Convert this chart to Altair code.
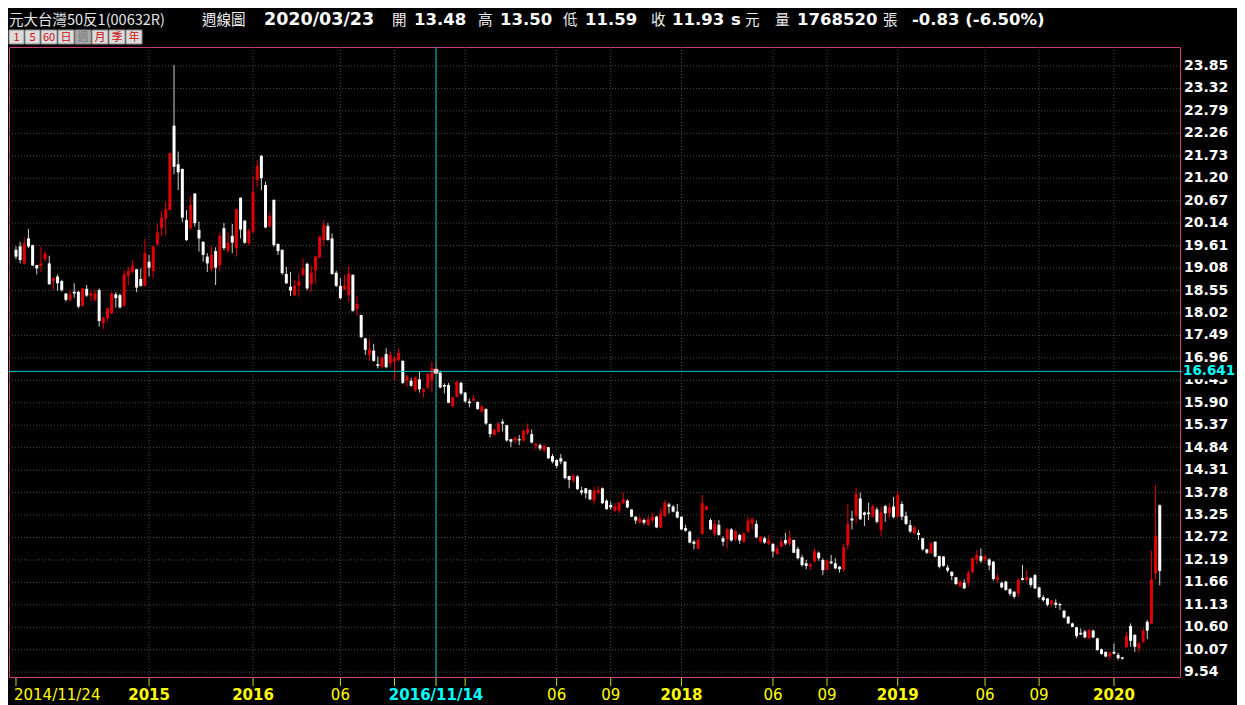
import altair as alt
import pandas as pd

# ---------------- data (weekly candles, 2014/11/24 .. 2020/03/23) ----------------
opens = [19.51, 19.59, 19.19, 19.78, 19.62, 19.15, 19.13, 19.29, 19.19, 18.77,
         18.88, 18.77, 18.48, 18.33, 18.52, 18.52, 18.19, 18.59, 18.43, 18.33,
         18.56, 17.78, 17.89, 18.01, 18.46, 18.44, 18.19, 18.90, 18.99, 19.05,
         18.82, 18.66, 19.23, 19.01, 19.64, 20.02, 20.25, 20.45, 22.44, 21.53,
         21.42, 20.21, 20.02, 20.84, 19.98, 19.70, 19.35, 19.06, 19.48, 19.15,
         20.02, 19.49, 19.84, 19.55, 20.74, 20.20, 19.66, 19.94, 21.16, 21.73,
         21.04, 20.06, 20.69, 19.65, 19.51, 18.94, 18.64, 18.44, 18.66, 18.92,
         19.18, 18.70, 19.02, 19.33, 19.74, 20.07, 19.78, 18.97, 18.66, 18.58,
         18.44, 18.92, 18.11, 17.97, 17.42, 17.03, 17.13, 16.81, 16.75, 17.05,
         16.83, 16.87, 16.91, 16.89, 16.42, 16.42, 16.19, 16.45, 16.16, 16.26,
         16.42, 16.62, 16.61, 16.32, 16.32, 15.82, 16.04, 16.37, 16.14, 15.93,
         15.95, 15.92, 15.69, 15.75, 15.40, 15.14, 15.22, 15.45, 15.37, 15.04,
         15.01, 15.04, 15.01, 15.19, 15.16, 14.88, 14.90, 14.78, 14.85, 14.64,
         14.55, 14.59, 14.51, 14.17, 14.06, 14.16, 13.83, 13.88, 13.84, 13.59,
         13.77, 13.88, 13.59, 13.49, 13.35, 13.35, 13.53, 13.59, 13.38, 13.21,
         13.07, 13.13, 13.02, 13.12, 13.21, 12.96, 13.23, 13.50, 13.45, 13.33,
         13.21, 12.94, 12.86, 12.62, 12.46, 12.80, 13.37, 13.13, 12.80, 13.02,
         12.70, 12.68, 12.91, 12.68, 12.78, 12.62, 12.86, 13.05, 13.04, 12.62,
         12.70, 12.57, 12.57, 12.33, 12.50, 12.66, 12.57, 12.66, 12.45, 12.25,
         12.11, 12.03, 12.15, 12.36, 12.19, 11.95, 12.15, 12.11, 12.03, 11.97,
         12.54, 13.17, 13.23, 13.64, 13.31, 13.31, 13.21, 13.38, 12.90, 13.46,
         13.29, 13.45, 13.21, 13.51, 13.23, 13.01, 12.82, 12.83, 12.70, 12.44,
         12.35, 12.62, 12.28, 12.27, 12.01, 11.91, 11.78, 11.57, 11.65, 11.65,
         11.91, 12.20, 12.28, 12.20, 12.20, 12.15, 11.72, 11.65, 11.68, 11.50,
         11.44, 11.40, 11.76, 11.72, 11.76, 11.83, 11.54, 11.31, 11.28, 11.15,
         11.18, 11.15, 10.99, 10.85, 10.69, 10.60, 10.47, 10.50, 10.34, 10.52,
         10.34, 10.08, 10.02, 9.91, 10.02, 9.95, 9.89, 10.13, 10.63, 10.42,
         10.10, 10.26, 10.73, 10.69, 11.87, 13.48]
highs = [19.59, 19.69, 19.80, 20.00, 19.63, 19.15, 19.58, 19.48, 19.37, 18.85,
         18.93, 18.80, 18.48, 18.56, 18.72, 18.54, 18.60, 18.68, 18.56, 18.56,
         18.60, 17.93, 18.13, 18.51, 18.51, 18.48, 19.03, 19.11, 19.27, 19.06,
         19.07, 19.77, 19.39, 19.62, 20.11, 20.43, 20.65, 21.81, 23.87, 21.83,
         21.43, 20.45, 20.79, 20.85, 20.18, 19.71, 19.43, 19.61, 19.57, 19.92,
         20.14, 19.92, 20.12, 20.47, 20.75, 20.21, 20.02, 21.24, 21.62, 21.75,
         21.12, 20.41, 20.70, 19.66, 19.52, 19.11, 18.99, 18.80, 18.94, 19.31,
         19.21, 19.15, 19.37, 19.84, 20.21, 20.14, 19.90, 19.02, 18.84, 18.92,
         19.13, 18.93, 18.42, 17.98, 17.43, 17.40, 17.29, 16.99, 16.99, 17.19,
         17.11, 16.99, 17.18, 16.90, 16.57, 16.49, 16.52, 16.63, 16.24, 16.61,
         16.87, 16.88, 16.66, 16.36, 16.37, 16.04, 16.40, 16.40, 16.16, 16.00,
         16.08, 15.93, 15.85, 15.77, 15.41, 15.30, 15.43, 15.51, 15.38, 15.05,
         15.10, 15.14, 15.26, 15.41, 15.27, 14.94, 14.94, 14.93, 14.86, 14.69,
         14.56, 14.69, 14.52, 14.18, 14.22, 14.19, 13.92, 13.89, 13.86, 13.92,
         13.94, 13.90, 13.62, 13.57, 13.53, 13.57, 13.78, 13.62, 13.39, 13.22,
         13.21, 13.17, 13.23, 13.31, 13.23, 13.41, 13.60, 13.54, 13.49, 13.51,
         13.22, 13.02, 12.88, 12.66, 12.70, 13.72, 13.47, 13.17, 13.13, 13.13,
         12.75, 12.94, 12.94, 12.90, 12.80, 12.83, 13.21, 13.20, 13.12, 12.75,
         12.74, 12.78, 12.58, 12.52, 12.70, 12.83, 12.88, 12.67, 12.50, 12.31,
         12.19, 12.11, 12.46, 12.39, 12.23, 12.20, 12.31, 12.23, 12.04, 12.57,
         13.51, 13.35, 13.90, 13.78, 13.33, 13.54, 13.49, 13.43, 13.45, 13.49,
         13.53, 13.68, 13.82, 13.57, 13.33, 13.13, 12.99, 12.90, 12.71, 12.45,
         12.62, 12.63, 12.29, 12.28, 12.07, 11.92, 11.79, 11.71, 11.73, 11.94,
         12.25, 12.42, 12.46, 12.31, 12.23, 12.16, 11.86, 11.68, 11.70, 11.52,
         11.45, 11.76, 12.07, 11.94, 11.78, 11.86, 11.56, 11.36, 11.29, 11.24,
         11.26, 11.18, 11.01, 10.87, 10.71, 10.61, 10.57, 10.54, 10.55, 10.55,
         10.35, 10.10, 10.03, 10.02, 10.22, 10.00, 9.90, 10.50, 10.69, 10.44,
         10.26, 10.58, 10.77, 12.41, 13.96, 13.50]
lows = [19.29, 19.19, 19.17, 19.55, 19.13, 18.93, 18.99, 19.23, 18.68, 18.56,
        18.54, 18.52, 18.29, 18.29, 18.38, 18.13, 18.17, 18.40, 18.30, 18.30,
        17.70, 17.64, 17.83, 17.99, 18.15, 18.13, 18.17, 18.68, 18.96, 18.51,
        18.64, 18.64, 18.88, 18.85, 19.61, 19.84, 19.86, 20.45, 21.29, 20.92,
        20.16, 19.72, 19.98, 20.06, 19.47, 19.23, 18.99, 19.01, 18.68, 19.02,
        19.50, 19.44, 19.43, 19.35, 19.78, 19.65, 19.62, 19.90, 20.99, 20.92,
        20.02, 20.04, 19.58, 19.39, 18.92, 18.70, 18.42, 18.42, 18.40, 18.89,
        18.56, 18.52, 18.72, 19.31, 19.60, 19.73, 18.92, 18.63, 18.34, 18.56,
        18.29, 18.05, 17.96, 17.42, 17.03, 16.89, 16.87, 16.71, 16.71, 16.71,
        16.75, 16.42, 16.87, 16.34, 16.27, 16.28, 16.16, 16.14, 16.03, 16.22,
        16.14, 16.58, 16.24, 16.12, 15.89, 15.79, 16.03, 16.08, 15.90, 15.79,
        15.93, 15.73, 15.67, 15.38, 15.08, 15.12, 15.19, 15.22, 14.98, 14.85,
        14.94, 14.90, 14.98, 15.14, 14.94, 14.80, 14.77, 14.72, 14.57, 14.47,
        14.35, 14.45, 14.09, 13.88, 14.01, 13.84, 13.72, 13.64, 13.60, 13.50,
        13.73, 13.51, 13.37, 13.38, 13.33, 13.29, 13.51, 13.41, 13.20, 13.04,
        13.04, 13.02, 12.99, 13.07, 12.94, 12.94, 13.20, 13.29, 13.31, 13.17,
        12.90, 12.86, 12.58, 12.44, 12.44, 12.78, 13.36, 12.90, 12.76, 12.76,
        12.52, 12.46, 12.62, 12.64, 12.57, 12.60, 12.82, 12.91, 12.70, 12.60,
        12.57, 12.54, 12.25, 12.31, 12.49, 12.54, 12.52, 12.35, 12.20, 12.03,
        11.97, 11.95, 12.13, 12.17, 11.83, 11.94, 12.09, 11.97, 11.89, 11.91,
        12.44, 12.91, 13.05, 13.13, 12.99, 13.13, 13.19, 13.05, 12.74, 13.09,
        13.17, 13.17, 13.19, 13.13, 13.01, 12.83, 12.80, 12.66, 12.41, 12.33,
        12.33, 12.25, 11.99, 12.03, 11.89, 11.71, 11.60, 11.54, 11.50, 11.57,
        11.87, 12.09, 12.12, 12.12, 11.95, 11.70, 11.65, 11.52, 11.46, 11.34,
        11.28, 11.32, 11.70, 11.68, 11.54, 11.50, 11.28, 11.20, 11.09, 11.09,
        11.05, 11.01, 10.81, 10.68, 10.60, 10.34, 10.41, 10.34, 10.32, 10.34,
        10.05, 9.95, 9.89, 9.83, 9.95, 9.83, 9.83, 10.13, 10.14, 10.02,
        10.02, 10.22, 10.32, 10.68, 11.73, 11.59]
closes = [19.35, 19.27, 19.66, 19.59, 19.14, 19.07, 19.19, 19.43, 18.70, 18.85,
          18.72, 18.56, 18.33, 18.46, 18.48, 18.17, 18.60, 18.43, 18.48, 18.48,
          17.83, 17.91, 18.13, 18.48, 18.37, 18.15, 18.93, 19.01, 19.14, 18.62,
          18.66, 19.43, 19.09, 19.59, 19.92, 20.27, 20.47, 21.79, 21.47, 21.34,
          20.27, 19.74, 20.57, 20.14, 19.78, 19.39, 19.19, 19.40, 19.09, 19.84,
          19.55, 19.68, 19.68, 20.47, 19.99, 19.68, 19.96, 20.88, 21.49, 21.20,
          20.04, 20.31, 19.62, 19.48, 18.96, 18.72, 18.55, 18.66, 18.77, 19.07,
          18.60, 18.97, 19.35, 19.82, 20.10, 19.74, 18.94, 18.66, 18.37, 18.66,
          18.95, 18.07, 18.23, 17.45, 17.15, 17.16, 16.89, 16.77, 16.97, 16.74,
          17.03, 16.95, 17.08, 16.37, 16.52, 16.30, 16.50, 16.22, 16.22, 16.58,
          16.71, 16.72, 16.26, 16.28, 15.90, 16.03, 16.40, 16.12, 15.93, 15.89,
          16.00, 15.75, 15.81, 15.41, 15.16, 15.26, 15.41, 15.41, 15.01, 14.98,
          15.08, 15.01, 15.24, 15.29, 14.96, 14.94, 14.82, 14.88, 14.59, 14.51,
          14.41, 14.51, 14.12, 14.08, 14.17, 13.86, 13.78, 13.76, 13.62, 13.82,
          13.84, 13.53, 13.39, 13.43, 13.45, 13.54, 13.62, 13.43, 13.21, 13.12,
          13.17, 13.07, 13.15, 13.21, 12.96, 13.29, 13.54, 13.45, 13.33, 13.19,
          12.91, 12.88, 12.60, 12.57, 12.66, 13.53, 13.45, 12.91, 13.04, 12.78,
          12.62, 12.91, 12.65, 12.86, 12.65, 12.82, 13.12, 13.15, 12.72, 12.74,
          12.60, 12.65, 12.39, 12.46, 12.62, 12.58, 12.72, 12.36, 12.23, 12.07,
          12.05, 12.09, 12.39, 12.23, 11.95, 12.17, 12.11, 11.99, 11.97, 12.49,
          13.04, 13.12, 13.75, 13.15, 13.25, 13.27, 13.46, 13.09, 13.31, 13.29,
          13.43, 13.20, 13.72, 13.21, 13.04, 12.86, 12.96, 12.78, 12.44, 12.36,
          12.58, 12.27, 12.03, 12.05, 11.94, 11.81, 11.62, 11.68, 11.52, 11.89,
          12.23, 12.31, 12.17, 12.27, 12.06, 11.74, 11.78, 11.54, 11.48, 11.39,
          11.32, 11.72, 11.72, 11.78, 11.60, 11.52, 11.31, 11.24, 11.13, 11.23,
          11.13, 11.12, 10.83, 10.69, 10.61, 10.39, 10.43, 10.36, 10.54, 10.36,
          10.06, 9.97, 9.91, 10.00, 9.98, 9.87, 9.86, 10.40, 10.28, 10.14,
          10.22, 10.52, 10.52, 11.73, 12.76, 11.93]

# x-axis ticks (candle index) and their labels
xtick_index = [0, 32, 57, 78, 91, 101, 108, 130, 143, 160, 182, 195, 212, 233, 246, 264]
xtick_label = ["2014/11/24", "2015", "2016", "06", "", "2016/11/14", "", "06", "09",
               "2018", "06", "09", "2019", "06", "09", "2020"]
year_labels = ["2015", "2016", "2018", "2019", "2020"]
month_labels = ["06", "09"]
first_label = "2014/11/24"
cursor_label = "2016/11/14"

# y-axis ticks
ytick_values = [9.54, 10.07, 10.60, 11.13, 11.66, 12.19, 12.72, 13.25, 13.78, 14.31,
                14.84, 15.37, 15.90, 16.43, 16.96, 17.49, 18.02, 18.55, 19.08, 19.61,
                20.14, 20.67, 21.20, 21.73, 22.26, 22.79, 23.32, 23.85]

# crosshair
cross_index = 101
cross_price = 16.641

# header
title_name = "元大台灣50反1(00632R)"
title_period = "週線圖"
title_date = "2020/03/23"
hdr_open, hdr_high, hdr_low, hdr_close = "13.48", "13.50", "11.59", "11.93"
hdr_volume = "1768520"
hdr_change = "-0.83 (-6.50%)"
buttons = ["1", "5", "60", "日", "週", "月", "季", "年"]

# ---------------- layout ----------------
W, H = 1171, 630
XDOM = [-0.477, 278.67]
YDOM = [9.426, 24.2985]
RED = "#e00000"
xs = alt.Scale(domain=XDOM, nice=False, zero=False)
ys = alt.Scale(domain=YDOM, nice=False, zero=False)

candles = pd.DataFrame({"i": list(range(len(opens))), "o": opens, "h": highs,
                        "l": lows, "c": closes})
yt = pd.DataFrame({"v": ytick_values})
xt = pd.DataFrame({"i": xtick_index, "lab": xtick_label})
cross = pd.DataFrame({"i": [cross_index], "p": [cross_price]})

layers = []

# grid
layers.append(alt.Chart(yt).mark_rule(color="#4a4a4a", strokeDash=[1, 2], strokeWidth=1).encode(
    y=alt.Y("v:Q", scale=ys, axis=None), x=alt.value(0), x2=alt.value(W)))
layers.append(alt.Chart(xt[xt["i"] > 0]).mark_rule(color="#4a4a4a", strokeDash=[1, 2], strokeWidth=1).encode(
    x=alt.X("i:Q", scale=xs, axis=None), y=alt.value(0), y2=alt.value(H)))

# candles
up = "datum.c > datum.o"
layers.append(alt.Chart(candles).mark_rule(strokeWidth=1).encode(
    x=alt.X("i:Q", scale=xs, axis=None),
    y=alt.Y("l:Q", scale=ys, axis=None), y2="h:Q",
    color=alt.condition(up, alt.value(RED), alt.value("#d0d0d0"))))
layers.append(alt.Chart(candles).mark_bar(size=3).encode(
    x=alt.X("i:Q", scale=xs, axis=None),
    y=alt.Y("o:Q", scale=ys, axis=None), y2="c:Q",
    color=alt.condition(up, alt.value(RED), alt.value("#ffffff"))))

# crosshair
CY = "#00c4cc"
layers.append(alt.Chart(cross).mark_rule(color=CY, strokeWidth=1).encode(
    x=alt.X("i:Q", scale=xs, axis=None), y=alt.value(0), y2=alt.value(H)))
layers.append(alt.Chart(cross).mark_rule(color=CY, strokeWidth=1).encode(
    y=alt.Y("p:Q", scale=ys, axis=None), x=alt.value(0), x2=alt.value(W + 3)))
layers.append(alt.Chart(cross).mark_square(size=22, color="#ffd8d8", opacity=0.9).encode(
    x=alt.X("i:Q", scale=xs, axis=None), y=alt.Y("p:Q", scale=ys, axis=None)))

# y labels
layers.append(alt.Chart(yt).mark_text(align="left", baseline="middle", font="DejaVu Sans",
                                      fontSize=14, fontWeight="bold", color="#ffffff").encode(
    y=alt.Y("v:Q", scale=ys, axis=None), x=alt.value(W + 4), text=alt.Text("v:Q", format=".2f")))
layers.append(alt.Chart(cross).mark_rect(color="#000000", yOffset=-8, y2Offset=8).encode(
    y=alt.Y("p:Q", scale=ys, axis=None), y2="p:Q", x=alt.value(W + 2), x2=alt.value(W + 60)))
layers.append(alt.Chart(cross).mark_text(align="left", baseline="middle", font="DejaVu Sans",
                                         fontSize=13.5, fontWeight="bold", color="#00ffff").encode(
    y=alt.Y("p:Q", scale=ys, axis=None), x=alt.value(W + 3), text=alt.Text("p:Q", format=".3f")))

# x ticks and labels
layers.append(alt.Chart(xt).mark_rule(color="#d8d800", strokeWidth=1).encode(
    x=alt.X("i:Q", scale=xs, axis=None), y=alt.value(H + 1), y2=alt.value(H + 9)))
LBL_Y = H + 23
layers.append(alt.Chart(xt[xt["lab"] == first_label]).mark_text(
    align="left", baseline="alphabetic", font="DejaVu Sans", fontSize=15, color="#ffff00", dx=-2).encode(
    x=alt.X("i:Q", scale=xs, axis=None), y=alt.value(LBL_Y), text="lab:N"))
layers.append(alt.Chart(xt[xt["lab"].isin(month_labels)]).mark_text(
    align="center", baseline="alphabetic", font="DejaVu Sans", fontSize=15, color="#ffff00").encode(
    x=alt.X("i:Q", scale=xs, axis=None), y=alt.value(LBL_Y), text="lab:N"))
layers.append(alt.Chart(xt[xt["lab"].isin(year_labels)]).mark_text(
    align="center", baseline="alphabetic", font="DejaVu Sans", fontSize=15, fontWeight="bold",
    color="#ffff00").encode(
    x=alt.X("i:Q", scale=xs, axis=None), y=alt.value(LBL_Y), text="lab:N"))
layers.append(alt.Chart(xt[xt["lab"] == cursor_label]).mark_text(
    align="center", baseline="alphabetic", font="DejaVu Sans", fontSize=15, fontWeight="bold",
    color="#00ffff").encode(
    x=alt.X("i:Q", scale=xs, axis=None), y=alt.value(LBL_Y), text="lab:N"))

# header texts
HY = -22
def htext(txt, x, bold=False, size=16.5, font="DejaVu Sans", color="#ffffff"):
    kw = dict(align="left", baseline="alphabetic", font=font, fontSize=size, color=color)
    if bold:
        kw["fontWeight"] = "bold"
    return alt.Chart(pd.DataFrame({"t": [txt]})).mark_text(**kw).encode(
        text="t:N", x=alt.value(x), y=alt.value(HY))

CJK = "Noto Sans CJK TC"
layers += [
    htext(title_name, 0, size=14.5, font=CJK, color="#e6e6e6"),
    htext(title_period, 193, size=14.5, font=CJK, color="#f0f0f0"),
    htext(title_date, 255, bold=True, size=17.5),
    htext("開", 383, size=14.5, font=CJK, color="#f0f0f0"),
    htext(hdr_open, 405, bold=True),
    htext("高", 469, size=14.5, font=CJK, color="#f0f0f0"),
    htext(hdr_high, 491, bold=True),
    htext("低", 554, size=14.5, font=CJK, color="#f0f0f0"),
    htext(hdr_low, 576, bold=True),
    htext("收", 642, size=14.5, font=CJK, color="#f0f0f0"),
    htext(hdr_close, 663, bold=True),
    htext("s", 722, bold=True),
    htext("元", 736, size=14.5, font=CJK, color="#f0f0f0"),
    htext("量", 766, size=14.5, font=CJK, color="#f0f0f0"),
    htext(hdr_volume, 788, bold=True),
    htext("張", 874, size=14.5, font=CJK, color="#f0f0f0"),
    htext(hdr_change, 903, bold=True),
]

# period buttons
bx = [0, 16, 32, 49, 66, 83, 100, 117]
bw = [15, 15, 16, 16, 16, 16, 16, 16]
for lab, x0, w0 in zip(buttons, bx, bw):
    sel = lab == "週"
    layers.append(alt.Chart(pd.DataFrame({"t": [lab]})).mark_rect(
        color="#a9a9a9" if sel else "#dcdcdc", stroke="#8c8c8c", strokeWidth=1).encode(
        x=alt.value(x0), x2=alt.value(x0 + w0), y=alt.value(-17), y2=alt.value(-3)))
    layers.append(alt.Chart(pd.DataFrame({"t": [lab]})).mark_text(
        align="center", baseline="middle", font=CJK, fontSize=11,
        color="#7a7a7a" if sel else "#cc1010").encode(
        text="t:N", x=alt.value(x0 + w0 / 2), y=alt.value(-9.5)))

chart = alt.layer(*layers).properties(
    width=W, height=H,
    padding={"left": 1, "top": 39, "right": 57, "bottom": 28},
    autosize=alt.AutoSizeParams(type="none"),
    background="#000000",
).configure_view(stroke="#c8407a", strokeWidth=1)

chart.save("out.html", embed_options={"renderer": "svg", "actions": False})
